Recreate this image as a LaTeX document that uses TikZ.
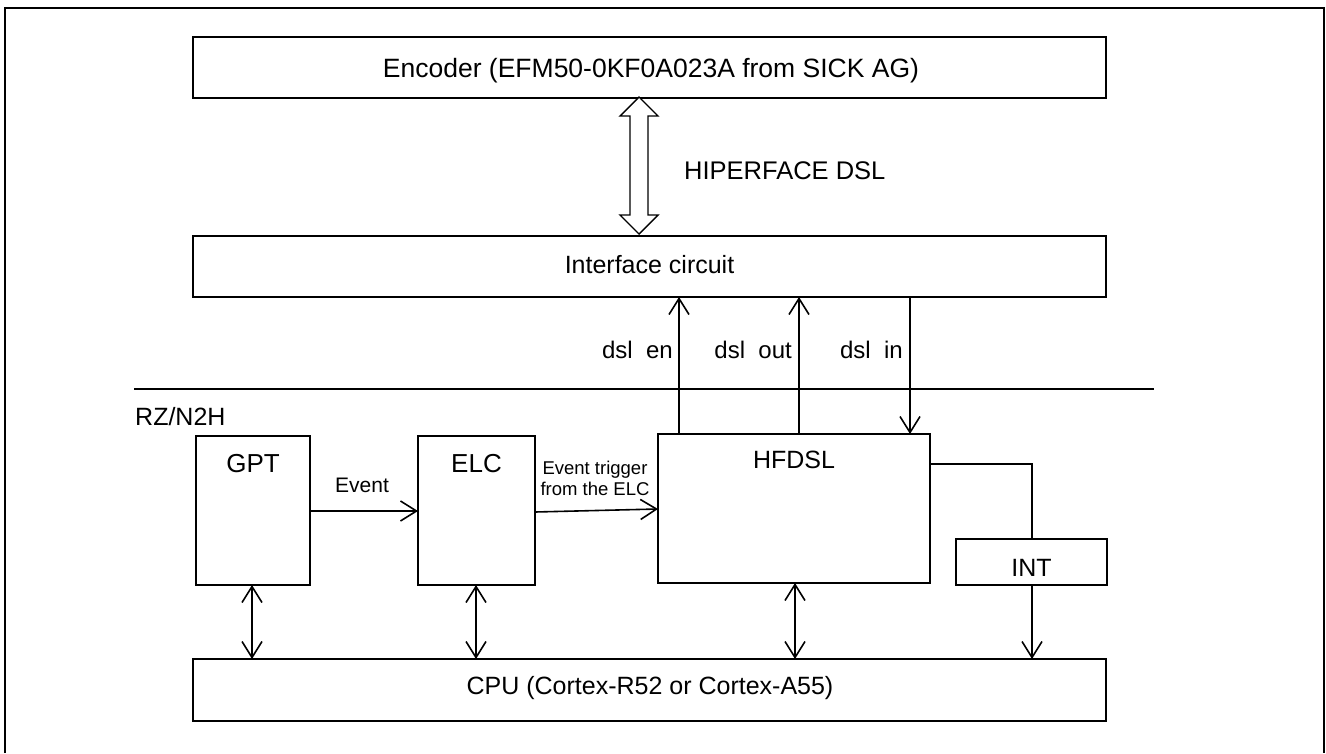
\documentclass[tikz,border=0pt]{standalone}
\usepackage{fontspec}
\setmainfont{Liberation Sans}
\usetikzlibrary{arrows.meta}
\begin{document}
\begin{tikzpicture}[x=1pt,y=-1pt,
  box/.style={draw,line width=1.6pt,rectangle,inner sep=0pt},
  conn/.style={line width=1.6pt},
  tip/.style={-{Straight Barb[length=16pt,width=20pt,line width=1.6pt]}},
  bitip/.style={{Straight Barb[length=16pt,width=20pt,line width=1.6pt]}-{Straight Barb[length=16pt,width=20pt,line width=1.6pt]}},
  lbl/.style={inner sep=0pt,anchor=base,font=\fontsize{25}{30}\selectfont},
  smalllbl/.style={inner sep=0pt,anchor=base,font=\fontsize{24}{29}\selectfont}]
\useasboundingbox (0,0) rectangle (1326,753);
% outer frame
\draw[line width=2.6pt] (5,753) -- (5,8) -- (1324,8) -- (1324,753);
% boxes
\node[box,minimum width=913pt,minimum height=61pt] (enc) at (649.5,67.5) {};
\node[box,minimum width=913pt,minimum height=61pt] (ifc) at (649.5,266.5) {};
\node[box,minimum width=114pt,minimum height=149pt] (gpt) at (253,510.5) {};
\node[box,minimum width=117pt,minimum height=149pt] (elc) at (476.5,510.5) {};
\node[box,minimum width=272pt,minimum height=149pt] (hf) at (794,508.5) {};
\node[box,minimum width=151pt,minimum height=46pt] (int) at (1031.5,562) {};
\node[box,minimum width=913pt,minimum height=62pt] (cpu) at (649.5,690) {};
% box labels
\node[lbl,font=\fontsize{26.5}{31}\selectfont] (encT) at (651,77) {Encoder (EFM50-0KF0A023A from SICK AG)};
\node[lbl] (ifcT) at (649.5,273) {Interface circuit};
\node[lbl,font=\fontsize{26}{30}\selectfont] (gptT) at (253,472) {GPT};
\node[lbl,font=\fontsize{26}{30}\selectfont] (elcT) at (476.5,472) {ELC};
\node[lbl] (hfT) at (794,468) {HFDSL};
\node[lbl] (intT) at (1031.5,576) {INT};
\node[lbl] (cpuT) at (650,694) {CPU (Cortex-R52 or Cortex-A55)};
% hollow double arrow
\draw[line width=1.4pt,fill=white] (639,97) -- (658,116) -- (648,116) -- (648,215) -- (658,215)
  -- (639,234) -- (620,215) -- (630,215) -- (630,116) -- (620,116) -- cycle;
\node[smalllbl,anchor=base west,font=\fontsize{25.5}{30}\selectfont] (hip) at (684,179) {HIPERFACE DSL};
% separator
\coordinate (sepL) at (134,389);
\coordinate (sepR) at (1154,389);
\draw[conn] (sepL) -- (sepR);
\node[lbl,anchor=base west] (rz) at (135,425) {RZ/N2H};
% dsl connectors
\coordinate (enB) at (679,434);
\coordinate (enT) at (679,297);
\coordinate (outB) at (799,434);
\coordinate (outT) at (799,297);
\coordinate (inT) at (910,297);
\coordinate (inB) at (910,434);
\draw[conn,tip] (enB) -- (enT);
\draw[conn,tip] (outB) -- (outT);
\draw[conn,tip] (inT) -- (inB);
\node[smalllbl,anchor=base east] (enL) at (673,358) {dsl\ \ en};
\node[smalllbl,anchor=base east] (outL) at (792,358) {dsl\ \ out};
\node[smalllbl,anchor=base east] (inL) at (903,358) {dsl\ \ in};
% event arrows
\coordinate (ev1) at (310,511);
\coordinate (ev2) at (418,511);
\draw[conn,tip] (ev1) -- (ev2);
\node[lbl,font=\fontsize{21}{25}\selectfont] (evL) at (362,492) {Event};
\coordinate (et1) at (535,512);
\coordinate (et2) at (658,509);
\draw[conn,tip] (et1) -- (et2);
\node[lbl,font=\fontsize{18.5}{21}\selectfont] (etL1) at (595,474) {Event trigger};
\node[lbl,font=\fontsize{18.5}{21}\selectfont] (etL2) at (595,495) {from the ELC};
% HFDSL to INT
\coordinate (hfr) at (930,464);
\coordinate (ic) at (1032,464);
\draw[conn] (hfr) -- (ic) -- (1032,539);
\draw[conn,tip] (1032,585) -- (1032,659);
% CPU bidirectional
\draw[conn,bitip] (252,585) -- (252,659);
\draw[conn,bitip] (476,585) -- (476,659);
\draw[conn,bitip] (795,583) -- (795,659);
\end{tikzpicture}
\end{document}
